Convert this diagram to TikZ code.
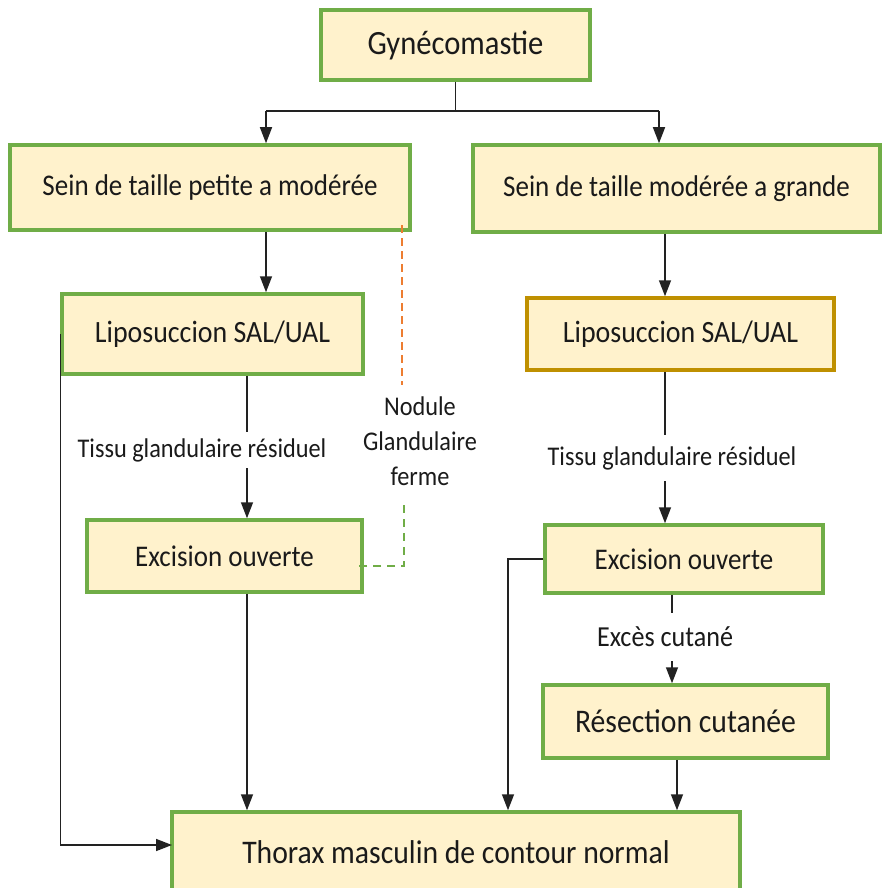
\documentclass[tikz,border=0pt]{standalone}
\usepackage{fontspec}
\setmainfont{Carlito}
\usetikzlibrary{arrows.meta}
\definecolor{boxfill}{HTML}{FFF2CC}
\definecolor{boxgreen}{HTML}{70AD47}
\definecolor{boxgold}{HTML}{BF9000}
\definecolor{dashorange}{HTML}{ED7D31}
\definecolor{txt}{HTML}{1A1A1A}
\definecolor{lin}{HTML}{222222}
\newcommand{\sq}[2]{\scalebox{0.9}[1]{\fontsize{#1}{#1}\selectfont #2}}
\tikzset{
  box/.style={draw=boxgreen, fill=boxfill, line width=3.5pt, inner sep=0pt, text=txt, align=center},
  goldbox/.style={box, draw=boxgold},
  lab/.style={inner sep=0pt, text=txt, align=center},
  conn/.style={draw=lin, line width=1.5pt},
  arr/.style={conn, -{Triangle[length=16pt,width=12pt]}},
  odash/.style={draw=dashorange, line width=1.3pt, dash pattern=on 8pt off 5pt},
  gdash/.style={draw=boxgreen, line width=1.3pt, dash pattern=on 8pt off 6pt},
}
\begin{document}
\begin{tikzpicture}[x=1pt,y=-1pt]
\clip (0,0) rectangle (889,888);
\fill[white] (0,0) rectangle (889,888);
% boxes
\node[box, minimum width=269pt, minimum height=70pt] (g) at (455.5,45) {\sq{34}{Gynécomastie}};
\node[box, minimum width=400pt, minimum height=85pt] (s1) at (210,187.5) {\sq{30}{Sein de taille petite a modérée}};
\node[box, minimum width=407pt, minimum height=87pt] (s2) at (676.5,188.5) {\sq{30}{Sein de taille modérée a grande}};
\node[box, minimum width=301pt, minimum height=80pt] (l1) at (212.5,334) {\sq{31}{Liposuccion SAL/UAL}};
\node[goldbox, minimum width=307pt, minimum height=72pt] (l2) at (680.5,334) {\sq{31}{Liposuccion SAL/UAL}};
\node[box, minimum width=275pt, minimum height=72pt] (e1) at (224.5,556) {\sq{30}{Excision ouverte}};
\node[box, minimum width=278pt, minimum height=68pt] (e2) at (684,559) {\sq{30}{Excision ouverte}};
\node[box, minimum width=285pt, minimum height=73pt] (r) at (685.5,721.5) {\sq{33}{Résection cutanée}};
\node[box, minimum width=568pt, minimum height=80pt] (t) at (456,852) {\sq{33}{Thorax masculin de contour normal}};
% labels
\node[lab, minimum height=36pt] (tg1) at (202,450) {\sq{27}{Tissu glandulaire résiduel}};
\node[lab, minimum height=46pt] (tg2) at (672,458) {\sq{27}{Tissu glandulaire résiduel}};
\node[lab, minimum height=48pt] (ec) at (665,637) {\sq{29}{Excès cutané}};
\node[lab] (nod) at (420,445) {\sq{27}{\begin{tabular}{@{}c@{}}Nodule\\[8pt]Glandulaire\\[8pt]ferme\end{tabular}}};
% coordinates
\coordinate (j) at (455.5,111);
\coordinate (jl) at (266,111);
\coordinate (jr) at (659,111);
\coordinate (xr) at (665,0);
\coordinate (x1) at (247,0);
\coordinate (x2) at (672,0);
\coordinate (x3) at (677,0);
\coordinate (x4) at (508,0);
\coordinate (tl) at (172,845);
\coordinate (o1) at (402,225);
\coordinate (o2) at (402,385);
\coordinate (g1) at (404,505);
\coordinate (g2) at (404,566);
\coordinate (g3) at (358,566);
% connectors
\draw[conn] (g) -- (j);
\draw[conn] (jl) -- (jr);
\draw[arr] (jl) -- (jl |- s1.north);
\draw[arr] (jr) -- (jr |- s2.north);
\draw[arr] (s1.south -| jl) -- (l1.north -| jl);
\draw[arr] (s2.south -| xr) -- (l2.north -| xr);
\draw[conn] (l1.south -| x1) -- (tg1.north -| x1);
\draw[arr] (tg1.south -| x1) -- (e1.north -| x1);
\draw[conn] (l2.south -| xr) -- (tg2.north -| xr);
\draw[arr] (tg2.south -| xr) -- (e2.north -| xr);
\draw[conn] (e2.south -| x2) -- (ec.north -| x2);
\draw[arr] (ec.south -| x2) -- (r.north -| x2);
\draw[arr] (e1.south -| x1) -- (t.north -| x1);
\draw[arr] (l1.west) |- (tl);
\draw[arr] (e2.west) -| (t.north -| x4);
\draw[arr] (r.south -| x3) -- (t.north -| x3);
\draw[odash] (o1) -- (o2);
\draw[gdash] (g1) -- (g2) -- (g3);
\end{tikzpicture}
\end{document}
